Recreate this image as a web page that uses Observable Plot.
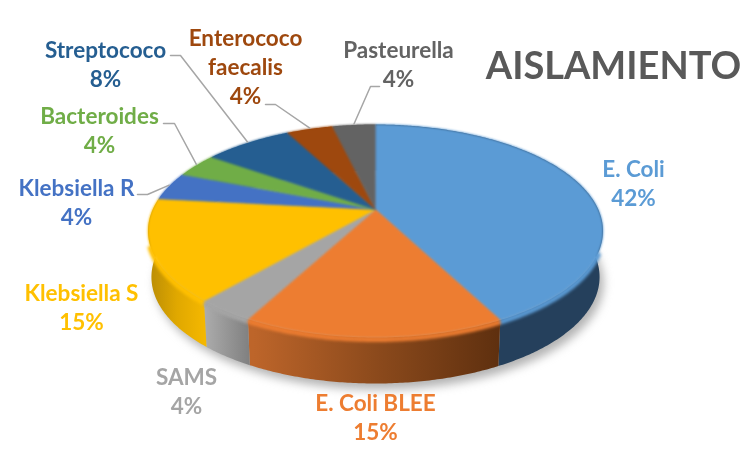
<!DOCTYPE html>
<html><head><meta charset="utf-8">
<script src="https://cdn.jsdelivr.net/npm/d3@7"></script>
<script src="https://cdn.jsdelivr.net/npm/@observablehq/plot@0.6"></script>
<style>
html,body{margin:0;padding:0;background:#fff}
</style>
</head><body>
<script>
// Data, clockwise from 12 o'clock
const names = ["E. Coli","E. Coli BLEE","SAMS","Klebsiella S","Klebsiella R","Bacteroides","Streptococo","Enterococo faecalis","Pasteurella"];
const shares = [42.4,15.4,3.5,15.4,4.3,3.7,7.6,4,3.7];
const colors = ["#5b9bd5","#ed7d31","#a5a5a5","#ffc000","#4472c4","#70ad47","#255e91","#9e480e","#636363"];
const displayNames = ["E. Coli","E. Coli BLEE","SAMS","Klebsiella S","Klebsiella R","Bacteroides","Streptococo","Enterococo\nfaecalis","Pasteurella"];
const title = "AISLAMIENTO";

// Layout
const labelXY = [[633,182],[375,416],[186,390],[81,306],[76,201],[99,129],[105,63],[245,65],[398,63]];
const elbows = {
  "Klebsiella R":[[137,194],[147,194]],
  "Bacteroides":[[163,123],[174,123]],
  "Streptococo":[[170,55],[180,55]],
  "Enterococo faecalis":[[265,104],[275,104]],
  "Pasteurella":[[379,86],[370,86]]
};
const W = 750, H = 449;
const C = -0.2019, A = 59.96, CY = 209, CX = 375, K = 222.8, DEPTH = 46, SHRINK = 0.985;
function rim(t, lower){
  const u = Math.sin(t), v = -Math.cos(t), d = C*v + 1;
  let x = CX + K*u/d, y = (A*v + CY)/d;
  if (lower){ x = CX + (x-CX)*SHRINK; y += DEPTH; }
  return {x,y};
}
const arcs = d3.pie().sort(null).value(d=>d)(shares);
function arcAngles(a){
  const n = Math.max(2, Math.ceil((a.endAngle-a.startAngle)/0.01));
  return d3.range(n+1).map(i=>a.startAngle+(a.endAngle-a.startAngle)*i/n);
}
const topPts = arcs.flatMap((a,i)=>[
  {name:names[i],x:CX,y:CY},
  ...arcAngles(a).map(t=>({name:names[i],...rim(t,false)}))
]);
const wallOf = i => {
  const ts = arcAngles(arcs[i]);
  return [...ts.map(t=>rim(t,false)),...ts.slice().reverse().map(t=>rim(t,true))];
};
const wallFill = {"E. Coli":"#25405c","E. Coli BLEE":"url(#wOrange)","SAMS":"url(#wGray)","Klebsiella S":"url(#wYellow)"};
const shadowPts = d3.range(0,2*Math.PI,0.02).map(t=>{const p=rim(t,true);return {x:p.x+4,y:p.y+6};});
// soft bevel where the front of the top face rolls over into the wall
const bevelPts = arcs.flatMap((a,i)=>i>3?[]:arcAngles(a).filter(t=>t>1.95&&t<4.4).map(t=>({name:names[i],...rim(t,false)})));

const labelRows = names.map((n,i)=>({
  name:n, x:labelXY[i][0], y:labelXY[i][1],
  text:displayNames[i]+"\n"+Math.round(shares[i])+"%"
}));
const leaderPts = names.flatMap((n,i)=>{
  if(!elbows[n]) return [];
  const mid=(arcs[i].startAngle+arcs[i].endAngle)/2, end=rim(mid,false);
  return [...elbows[n].map(([x,y])=>({name:n,x,y})),{name:n,x:end.x,y:end.y-1}];
});
const blur = px => (i,s,v,d,c,next)=>{const g=next(i,s,v,d,c); g.style.filter=`blur(${px}px)`; return g;};

const chart = Plot.plot({
  width:W,height:H,margin:0,
  x:{domain:[0,W],range:[0,W],axis:null},
  y:{domain:[0,H],range:[0,H],axis:null},
  color:{domain:names,range:colors},
  style:{background:"#fff",fontFamily:"Lato, 'Open Sans', sans-serif"},
  marks:[
    Plot.line(shadowPts,{x:"x",y:"y",fill:"#9a9a9a",stroke:"none",fillOpacity:.75,render:blur(5)}),
    ...names.map((n,i)=>Plot.line(wallOf(i),{x:"x",y:"y",fill:wallFill[n]||colors[i],stroke:"none",render:blur(.5)})),
    Plot.line(bevelPts,{x:"x",y:"y",z:"name",stroke:"name",strokeWidth:5,dy:2,strokeLinecap:"butt",render:blur(1.8)}),
    Plot.line(topPts,{x:"x",y:"y",z:"name",fill:"name",stroke:"name",strokeWidth:.6,render:blur(.8)}),
    Plot.line(leaderPts,{x:"x",y:"y",z:"name",stroke:"#a6a6a6",strokeWidth:1.5,render:blur(.3)}),
    Plot.text(labelRows,{x:"x",y:"y",text:"text",fill:"name",fontSize:22.5,fontWeight:700,lineHeight:1.29,textAnchor:"middle",render:blur(.3)}),
    Plot.text([title],{x:[613],y:[66],text:d=>d,fill:"#595959",fontSize:38,fontWeight:700,textAnchor:"middle",render:blur(.3)})
  ]
});
const defs = d3.select(chart).insert("defs",":first-child");
function grad(id,x1,x2,stops){
  const g=defs.append("linearGradient").attr("id",id).attr("gradientUnits","userSpaceOnUse")
    .attr("x1",x1).attr("x2",x2).attr("y1",0).attr("y2",0);
  stops.forEach(([o,c])=>g.append("stop").attr("offset",o).attr("stop-color",c));
}
grad("wOrange",253,498,[[0,"#bd652a"],[.5,"#8c4a1c"],[1,"#5f300f"]]);
grad("wGray",205,253,[[0,"#ababab"],[1,"#7c7c7c"]]);
grad("wYellow",148,205,[[0,"#b98c05"],[.5,"#e0a800"],[1,"#f5b800"]]);
document.body.appendChild(chart);
</script>
</body></html>
